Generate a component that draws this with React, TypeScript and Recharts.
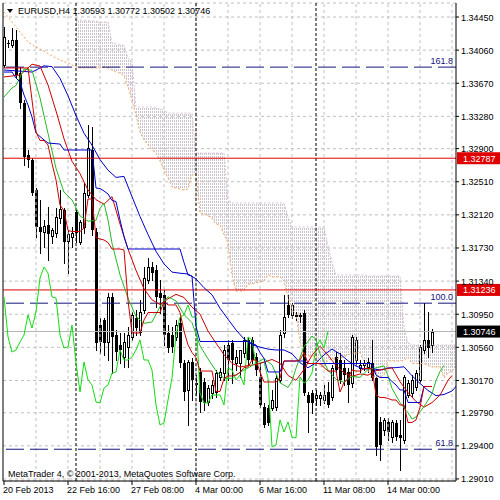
import React from 'react';
import {
  ComposedChart,
  Bar,
  Line,
  Area,
  XAxis,
  YAxis,
  CartesianGrid,
  ReferenceLine
} from 'recharts';

// EURUSD H4, 108 bars from Wed 20 Feb 2013 00:00
const opens = [
  1.33885, 1.34144, 1.34120, 1.34179, 1.33790, 1.33437, 1.32825, 1.32766, 1.32413, 1.31977,
  1.31918, 1.32001, 1.31871, 1.31906, 1.32083, 1.32177, 1.31812, 1.31859, 1.32154, 1.31800,
  1.31977, 1.32354, 1.32884, 1.31918, 1.30823, 1.30882, 1.30623, 1.31153, 1.30705, 1.30588,
  1.30446, 1.30564, 1.30682, 1.30906, 1.30741, 1.31000, 1.31353, 1.31506, 1.31471, 1.31200,
  1.31176, 1.30729, 1.30705, 1.30682, 1.30847, 1.30376, 1.30058, 1.30387, 1.30140, 1.30270,
  1.30152, 1.29916, 1.30022, 1.30034, 1.30211, 1.30258, 1.30588, 1.30611, 1.30376, 1.30376,
  1.30493, 1.30647, 1.30647, 1.30446, 1.30211, 1.29858, 1.29846, 1.29846, 1.29858, 1.30176,
  1.30729, 1.31059, 1.30941, 1.30941, 1.30941, 1.30964, 1.29999, 1.30022, 1.29964, 1.29964,
  1.29940, 1.30034, 1.29975, 1.30446, 1.30411, 1.30317, 1.30270, 1.30140, 1.30411, 1.30317,
  1.30352, 1.30329, 1.30376, 1.30199, 1.29681, 1.29587, 1.29681, 1.29504, 1.29669, 1.29528,
  1.29469, 1.29999, 1.30022, 1.30093, 1.30176, 1.30529, 1.30647, 1.30593
];
const highs = [
  1.34332, 1.34179, 1.34320, 1.34297, 1.33861, 1.33473, 1.32884, 1.32790, 1.32436, 1.32295,
  1.32060, 1.32213, 1.31965, 1.32201, 1.32413, 1.32201, 1.31942, 1.31977, 1.32177, 1.32060,
  1.32495, 1.33178, 1.33155, 1.31965, 1.30906, 1.30906, 1.31200, 1.31200, 1.30764, 1.30729,
  1.30729, 1.30800, 1.30976, 1.31000, 1.31118, 1.31506, 1.31612, 1.31565, 1.31530, 1.31353,
  1.31235, 1.30823, 1.30800, 1.30882, 1.30917, 1.30411, 1.30411, 1.30435, 1.30234, 1.30317,
  1.30199, 1.30117, 1.30176, 1.30293, 1.30317, 1.30588, 1.30647, 1.30647, 1.30529, 1.30529,
  1.30682, 1.30670, 1.30682, 1.30493, 1.30376, 1.29905, 1.29881, 1.30058, 1.30234, 1.30764,
  1.31176, 1.31176, 1.31082, 1.30976, 1.30964, 1.31000, 1.30034, 1.30058, 1.30058, 1.30034,
  1.30117, 1.30152, 1.30352, 1.30505, 1.30493, 1.30411, 1.30317, 1.30705, 1.30682, 1.30411,
  1.30411, 1.30435, 1.30647, 1.30211, 1.29740, 1.29728, 1.29728, 1.29705, 1.29705, 1.29705,
  1.30234, 1.30176, 1.30234, 1.30293, 1.30588, 1.31082, 1.30976, 1.30772
];
const lows = [
  1.33861, 1.34097, 1.34097, 1.33732, 1.33378, 1.32707, 1.32684, 1.32354, 1.31859, 1.31671,
  1.31742, 1.31589, 1.31789, 1.31859, 1.32024, 1.31553, 1.31435, 1.31742, 1.31800, 1.31777,
  1.31906, 1.32330, 1.31883, 1.30529, 1.30493, 1.30470, 1.30411, 1.30258, 1.30411, 1.30376,
  1.30329, 1.30329, 1.30647, 1.30705, 1.30705, 1.30964, 1.31318, 1.31353, 1.31035, 1.30964,
  1.30588, 1.30505, 1.30505, 1.30647, 1.30329, 1.29940, 1.29646, 1.29940, 1.29999, 1.29799,
  1.29822, 1.29881, 1.29964, 1.29975, 1.30176, 1.30176, 1.30176, 1.30140, 1.30293, 1.30211,
  1.30446, 1.30352, 1.30376, 1.30234, 1.29858, 1.29622, 1.29646, 1.29822, 1.29822, 1.30152,
  1.30682, 1.30917, 1.30906, 1.30882, 1.30858, 1.29999, 1.29563, 1.29787, 1.29881, 1.29881,
  1.29905, 1.29858, 1.29940, 1.30270, 1.30140, 1.30117, 1.29916, 1.30093, 1.30352, 1.30270,
  1.30293, 1.30270, 1.30176, 1.29292, 1.29234, 1.29528, 1.29469, 1.29445, 1.29469, 1.29116,
  1.29434, 1.29975, 1.29987, 1.30058, 1.30152, 1.30493, 1.30446, 1.30502
];
const closes = [
  1.34214, 1.34132, 1.34179, 1.33767, 1.33437, 1.32801, 1.32766, 1.32377, 1.31977, 1.31918,
  1.31989, 1.31895, 1.31942, 1.32095, 1.32189, 1.31800, 1.31895, 1.31906, 1.31906, 1.32036,
  1.32377, 1.32907, 1.31942, 1.30611, 1.30623, 1.30611, 1.31153, 1.30682, 1.30505, 1.30529,
  1.30623, 1.30705, 1.30941, 1.30788, 1.30976, 1.31377, 1.31506, 1.31435, 1.31153, 1.31141,
  1.30705, 1.30552, 1.30564, 1.30823, 1.30376, 1.30034, 1.30387, 1.30176, 1.30117, 1.29916,
  1.29905, 1.30081, 1.30117, 1.30258, 1.30270, 1.30529, 1.30411, 1.30411, 1.30446, 1.30529,
  1.30647, 1.30411, 1.30411, 1.30293, 1.29881, 1.29646, 1.29669, 1.29940, 1.30199, 1.30705,
  1.30917, 1.30941, 1.31059, 1.30917, 1.30917, 1.30022, 1.29905, 1.29905, 1.29999, 1.29999,
  1.29999, 1.29881, 1.30317, 1.30293, 1.30176, 1.30234, 1.30117, 1.30682, 1.30647, 1.30352,
  1.30376, 1.30387, 1.30199, 1.29387, 1.29410, 1.29705, 1.29563, 1.29681, 1.29504, 1.29493,
  1.30211, 1.30140, 1.30176, 1.30258, 1.30564, 1.30647, 1.30552, 1.30746
];

// Alligator lines as drawn (already shifted forward): [bar, price]
const jaw = [
  [0, 1.33826], [7, 1.33802], [8, 1.33825], [10, 1.33875], [12, 1.33866], [14, 1.33727], [16, 1.33523],
  [18, 1.33289], [20, 1.33081], [22, 1.32941], [24, 1.32771], [26, 1.32646], [28, 1.32561], [30, 1.32573],
  [32, 1.32335], [34, 1.32101], [36, 1.31889], [38, 1.31690], [40, 1.31543], [42, 1.31446], [44, 1.31433],
  [46, 1.31424], [48, 1.31366], [50, 1.31262], [52, 1.31179], [54, 1.31020], [56, 1.30891], [58, 1.30765],
  [60, 1.30659], [62, 1.30591], [64, 1.30562], [66, 1.30539], [68, 1.30529], [70, 1.30529], [72, 1.30485],
  [74, 1.30379], [76, 1.30320], [78, 1.30377], [80, 1.30472], [82, 1.30540], [84, 1.30481], [86, 1.30402],
  [88, 1.30340], [90, 1.30303], [92, 1.30311], [94, 1.30293], [96, 1.30318], [98, 1.30321], [100, 1.30331],
  [102, 1.30225], [104, 1.30135], [106, 1.30052], [108, 1.29991], [110, 1.30005], [112, 1.30046],
  [114, 1.30151], [115, 1.30189]
];
const teeth = [
  [0, 1.33744], [4, 1.33767], [5, 1.33808], [7, 1.33894], [9, 1.33873], [11, 1.33650], [13, 1.33344],
  [15, 1.33016], [17, 1.32751], [19, 1.32606], [21, 1.32413], [23, 1.32298], [25, 1.32246], [27, 1.32335],
  [29, 1.32013], [31, 1.31717], [33, 1.31467], [35, 1.31249], [37, 1.31119], [39, 1.31064], [41, 1.31132],
  [43, 1.31184], [45, 1.31147], [47, 1.31033], [49, 1.30952], [51, 1.30751], [53, 1.30610], [55, 1.30474],
  [57, 1.30371], [59, 1.30329], [61, 1.30345], [63, 1.30358], [65, 1.30385], [67, 1.30417], [69, 1.30373],
  [71, 1.30229], [73, 1.30172], [75, 1.30298], [77, 1.30467], [79, 1.30573], [81, 1.30468], [83, 1.30345],
  [85, 1.30260], [87, 1.30218], [89, 1.30247], [91, 1.30232], [93, 1.30286], [95, 1.30300], [97, 1.30320],
  [99, 1.30155], [101, 1.30027], [103, 1.29922], [105, 1.29856], [107, 1.29909], [109, 1.29997],
  [111, 1.30172], [112, 1.30229]
];
const lips = [
  [0, 1.33508], [2, 1.33614], [3, 1.33644], [5, 1.33837], [7, 1.33821], [9, 1.33497], [11, 1.33079],
  [13, 1.32668], [15, 1.32388], [17, 1.32296], [19, 1.32108], [21, 1.32045], [23, 1.32056], [24, 1.32196],
  [25, 1.32261], [26, 1.32059], [27, 1.31786], [29, 1.31414], [31, 1.31140], [33, 1.30923], [35, 1.30843],
  [37, 1.30858], [39, 1.31040], [41, 1.31155], [43, 1.31107], [45, 1.30946], [47, 1.30851], [49, 1.30579],
  [51, 1.30424], [53, 1.30282], [55, 1.30194], [57, 1.30195], [59, 1.30268], [61, 1.30317], [63, 1.30374],
  [65, 1.30428], [67, 1.30354], [69, 1.30143], [71, 1.30088], [72, 1.30162], [73, 1.30314], [75, 1.30568],
  [77, 1.30693], [78, 1.30655], [79, 1.30484], [81, 1.30292], [83, 1.30183], [85, 1.30148], [87, 1.30220],
  [89, 1.30206], [91, 1.30299], [93, 1.30317], [95, 1.30342], [96, 1.30224], [97, 1.30077], [99, 1.29909],
  [101, 1.29791], [102, 1.29716], [103, 1.29740], [105, 1.29863], [107, 1.30014], [108, 1.30169],
  [109, 1.30276], [110, 1.30348]
];

// Ichimoku: Tenkan-sen, Kijun-sen [bar, price]
const tenkan = [
  [0, 1.33850], [6, 1.33850], [7, 1.33473], [8, 1.33096], [9, 1.32996], [10, 1.32996], [11, 1.32943],
  [12, 1.32725], [13, 1.32531], [14, 1.32236], [15, 1.32171], [16, 1.31936], [17, 1.31924], [19, 1.31924],
  [20, 1.31965], [21, 1.32307], [22, 1.32307], [23, 1.31853], [24, 1.31836], [25, 1.31824], [26, 1.31794],
  [27, 1.31718], [29, 1.31718], [30, 1.31706], [31, 1.31112], [32, 1.30729], [34, 1.30729], [35, 1.30882],
  [36, 1.30970], [39, 1.30970], [40, 1.31100], [41, 1.31059], [43, 1.31059], [44, 1.30970], [45, 1.30752],
  [46, 1.30588], [47, 1.30499], [48, 1.30440], [49, 1.30281], [52, 1.30281], [53, 1.30040], [54, 1.30040],
  [55, 1.30193], [56, 1.30223], [57, 1.30223], [58, 1.30234], [59, 1.30264], [60, 1.30323], [61, 1.30329],
  [62, 1.30411], [63, 1.30411], [64, 1.30270], [65, 1.30152], [68, 1.30152], [69, 1.30193], [70, 1.30399],
  [73, 1.30399], [74, 1.30411], [75, 1.30499], [76, 1.30370], [79, 1.30370], [80, 1.30323], [81, 1.30281],
  [83, 1.30281], [84, 1.30034], [85, 1.30146], [86, 1.30193], [87, 1.30293], [88, 1.30281], [89, 1.30281],
  [90, 1.30311], [92, 1.30311], [93, 1.29999], [94, 1.29970], [95, 1.29970], [96, 1.29958], [97, 1.29940],
  [98, 1.29940], [99, 1.29881], [100, 1.29881], [101, 1.29675], [102, 1.29675], [103, 1.29705],
  [104, 1.29852], [105, 1.30099], [107, 1.30099]
];
const kijun = [
  [0, 1.33802], [2, 1.33802], [3, 1.33732], [4, 1.33684], [5, 1.33532], [6, 1.33414], [7, 1.33272],
  [8, 1.33084], [10, 1.33002], [11, 1.32966], [14, 1.32954], [15, 1.32884], [22, 1.32884], [23, 1.32436],
  [24, 1.32430], [25, 1.32401], [26, 1.32366], [27, 1.32289], [28, 1.32277], [29, 1.32060], [30, 1.31865],
  [31, 1.31718], [44, 1.31718], [45, 1.31559], [46, 1.31412], [47, 1.31400], [48, 1.30805], [49, 1.30629],
  [61, 1.30629], [62, 1.30605], [63, 1.30588], [64, 1.30499], [65, 1.30429], [66, 1.30270], [69, 1.30270],
  [70, 1.30399], [75, 1.30399], [76, 1.30370], [92, 1.30370], [93, 1.30234], [94, 1.30205], [96, 1.30205],
  [97, 1.30158], [98, 1.30117], [99, 1.30058], [100, 1.30058], [101, 1.29911], [104, 1.29911],
  [105, 1.30099], [107, 1.30099]
];

// Kumo: Senkou Span A / B at these bars (B missing where no cloud is drawn)
const cloudBars = [
  0, 2, 4, 6, 8, 10, 12, 14, 16, 18, 19, 22, 24, 25, 26, 27, 28, 29, 30, 31, 32, 33, 34, 35, 36, 37, 38, 39,
  40, 41, 42, 45, 46, 47, 48, 49, 50, 51, 52, 53, 54, 55, 56, 57, 58, 60, 61, 65, 66, 67, 69, 70, 71, 72,
  73, 74, 75, 78, 79, 80, 81, 82, 83, 84, 85, 86, 87, 88, 89, 90, 91, 92, 94, 95, 96, 99, 100, 101, 102,
  105, 106, 107, 109, 110, 111, 112, 113
];
const senkouA = [
  1.34509, 1.34391, 1.34273, 1.34155, 1.34097, 1.34049, 1.33991, 1.33944, 1.33908, 1.33861, 1.33850,
  1.33850, 1.33850, 1.33861, 1.33850, 1.33826, 1.33802, 1.33790, 1.33755, 1.33626, 1.33473, 1.33296,
  1.33096, 1.33002, 1.32943, 1.32884, 1.32848, 1.32754, 1.32648, 1.32554, 1.32448, 1.32413, 1.32425,
  1.32590, 1.32590, 1.32142, 1.32130, 1.32107, 1.32083, 1.32012, 1.32001, 1.31889, 1.31789, 1.31412,
  1.31223, 1.31223, 1.31300, 1.31341, 1.31412, 1.31388, 1.31388, 1.31341, 1.31153, 1.31000, 1.30953,
  1.30623, 1.30458, 1.30458, 1.30334, 1.30334, 1.30411, 1.30423, 1.30423, 1.30435, 1.30446, 1.30476,
  1.30482, 1.30505, 1.30499, 1.30387, 1.30293, 1.30211, 1.30211, 1.30234, 1.30399, 1.30399, 1.30405,
  1.30446, 1.30370, 1.30370, 1.30346, 1.30329, 1.30329, 1.30199, 1.30258, 1.30282, 1.30329
];
const senkouB = [
  null, null, null, null, null, null, null, null, null, 1.34415, 1.34415,
  1.34403, 1.34391, 1.34391, 1.34391, 1.34144, 1.34132, 1.34120, 1.34120, 1.33967, 1.33920, 1.33390,
  1.33390, 1.33390, 1.33390, 1.33390, 1.33378, 1.33367, 1.33355, 1.33319, 1.33319, 1.33319, 1.33319,
  1.33319, 1.32848, 1.32848, 1.32848, 1.32848, 1.32848, 1.32848, 1.32848, 1.32848, 1.32295, 1.32260,
  1.32260, 1.32260, 1.32260, 1.32260, 1.32260, 1.32260, 1.32260, 1.32260, 1.32095, 1.31977, 1.31977,
  1.31977, 1.31977, 1.31977, 1.31977, 1.31977, 1.31753, 1.31559, 1.31412, 1.31412, 1.31412, 1.31412,
  1.31412, 1.31412, 1.31412, 1.31412, 1.31400, 1.31400, 1.31400, 1.31400, 1.31400, 1.31400, 1.30794,
  1.30617, 1.30588, 1.30588, 1.30588, 1.30588, 1.30588, 1.30588, 1.30588, 1.30588, 1.30588
];
const CHIKOU_SHIFT = 26;

// horizontal levels
const redLevels = [1.32787, 1.31236];
const bidPrice = 1.30746;
const fiboLevels = [1.3386, 1.3108, 1.2936];
const fiboNames = ['161.8', '100.0', '61.8'];

// axes
const priceTicks = [
  1.2901, 1.294, 1.2979, 1.3017, 1.3056, 1.3095, 1.3134, 1.3173, 1.3212, 1.3251, 1.329, 1.3328,
  1.3367, 1.3406, 1.3445
];
const timeTicks = [0, 16, 32, 48, 64, 80, 96];
const timeLabels = ['20 Feb 2013', '22 Feb 16:00', '27 Feb 08:00', '4 Mar 00:00', '6 Mar 16:00', '11 Mar 08:00', '14 Mar 00:00'];
const timeGrid = [8, 16, 24, 32, 40, 48, 56, 64, 72, 80, 88, 96, 104, 112];
const weekStarts = [18, 48, 78];

const FONT = "'Liberation Sans', Arial, sans-serif";
const RED = '#cc0000';
const BLUE = '#0000cc';
const LIME = '#11dd11';
const GRID = '#c0c0c0';
const NAVY = '#14147a';

// table for recharts
const rows: any[] = [];
for (let i = 0; i < 116; i++) rows.push({ i });
opens.forEach((o, i) => {
  Object.assign(rows[i], { o, h: highs[i], l: lows[i], c: closes[i], candle: [lows[i], highs[i]] });
});
const put = (key: string, pts: number[][]) => pts.forEach(([i, v]) => { rows[i][key] = v; });
put('jaw', jaw);
put('teeth', teeth);
put('lips', lips);
put('tenkan', tenkan);
put('kijun', kijun);
closes.forEach((c, i) => { if (i >= CHIKOU_SHIFT) rows[i - CHIKOU_SHIFT].chikou = c; });
cloudBars.forEach((i, n) => {
  rows[i].spanA = senkouA[n];
  if (senkouB[n] != null) {
    rows[i].spanB = senkouB[n];
    rows[i].cloud = [senkouA[n], senkouB[n]];
  }
});

const Candle = (props: any) => {
  const { x, y, width, height, payload } = props;
  if (!payload || payload.h == null || isNaN(y)) return null;
  const cx = Math.round(x + (width || 0) / 2);
  const top = Math.min(y, y + height);
  const bot = Math.max(y, y + height);
  const span = payload.h - payload.l;
  const py = (v: number) => (span > 0 ? top + ((payload.h - v) / span) * (bot - top) : top);
  const yo = py(payload.o);
  const yc = py(payload.c);
  const bTop = Math.round(Math.min(yo, yc));
  const bBot = Math.round(Math.max(yo, yc));
  const up = payload.c > payload.o;
  return (
    <g>
      <line x1={cx + 0.5} x2={cx + 0.5} y1={Math.round(top)} y2={Math.round(bot) + 1} stroke="#000" strokeWidth={1} />
      {up ? (
        <rect x={cx - 0.5} y={bTop + 0.5} width={2} height={Math.max(bBot - bTop, 1)} fill="#fff" stroke="#000" strokeWidth={1} />
      ) : (
        <rect x={cx - 1} y={bTop} width={3} height={Math.max(bBot - bTop, 1)} fill="#000" />
      )}
    </g>
  );
};

const PriceTick = ({ x, y, payload }: any) => (
  <text x={x} y={y} dy={3.5} fontSize={9} fontFamily={FONT} fill="#000" textAnchor="start">
    {Number(payload.value).toFixed(5)}
  </text>
);

const TimeTick = ({ x, y, payload }: any) => (
  <text x={x - 1} y={y} dy={8} fontSize={9} fontFamily={FONT} fill="#000" textAnchor="start">
    {timeLabels[timeTicks.indexOf(payload.value)]}
  </text>
);

const PriceTag = ({ viewBox, text, bg }: any) => {
  if (!viewBox) return null;
  const x = viewBox.x + viewBox.width;
  const y = viewBox.y;
  return (
    <g>
      <rect x={x + 1} y={y - 6} width={44} height={12} fill={bg} />
      <text x={x + 7} y={y + 3.5} fontSize={9} fontFamily={FONT} fill="#fff">{text}</text>
    </g>
  );
};

const FiboTag = ({ viewBox, text }: any) => {
  if (!viewBox) return null;
  return (
    <text x={viewBox.x + viewBox.width - 3} y={viewBox.y - 3} textAnchor="end" fontSize={9} fontFamily={FONT} fill={NAVY}>
      {text}
    </text>
  );
};

export default function App() {
  return (
    <div style={{ position: 'absolute', left: 0, top: 0, width: 500, height: 500, background: '#fff', overflow: 'hidden' }}>
      <svg width={0} height={0} style={{ position: 'absolute' }}>
        <defs>
          <pattern id="kumo" width="2" height="3" patternUnits="userSpaceOnUse">
            <rect x="0" y="0" width="1" height="2" fill="#cdc3cf" />
          </pattern>
        </defs>
      </svg>
      <ComposedChart width={500} height={500} data={rows} margin={{ top: 3, right: 0, bottom: 0, left: 3 }}>
        <CartesianGrid vertical={false} stroke={GRID} strokeDasharray="3 3" />
        <XAxis
          dataKey="i"
          type="number"
          domain={[-0.25, 113]}
          allowDataOverflow
          ticks={timeTicks}
          interval={0}
          height={19}
          tick={<TimeTick />}
          tickSize={4}
          tickMargin={0}
          axisLine={{ stroke: '#000' }}
          tickLine={{ stroke: '#000' }}
        />
        <YAxis
          orientation="right"
          type="number"
          domain={[1.28986, 1.34615]}
          allowDataOverflow
          ticks={priceTicks}
          interval={0}
          width={44}
          tick={<PriceTick />}
          tickSize={3}
          tickMargin={2}
          axisLine={{ stroke: '#000' }}
          tickLine={{ stroke: '#000' }}
        />
        {timeGrid.map((t) => (
          <ReferenceLine key={'g' + t} x={t} stroke={GRID} strokeDasharray="3 3" />
        ))}
        <Area dataKey="cloud" fill="url(#kumo)" fillOpacity={1} stroke="none" connectNulls isAnimationActive={false} />
        <Line dataKey="spanA" stroke="#f4a460" strokeDasharray="2 2" dot={false} connectNulls isAnimationActive={false} />
        <Line dataKey="spanB" stroke="#d8bfd8" strokeDasharray="2 2" dot={false} connectNulls isAnimationActive={false} />
        {weekStarts.map((w) => (
          <ReferenceLine key={'w' + w} x={w} stroke="#000" strokeDasharray="3 2" />
        ))}
        <ReferenceLine x={-0.25} stroke="#000" />
        <ReferenceLine y={bidPrice} stroke="#b4b4b4" label={<PriceTag text={bidPrice.toFixed(5)} bg="#000" />} />
        {redLevels.map((v) => (
          <ReferenceLine key={'r' + v} y={v} stroke="#e00000" label={<PriceTag text={v.toFixed(5)} bg="#e00000" />} />
        ))}
        {fiboLevels.map((v, n) => (
          <ReferenceLine key={'f' + v} y={v} stroke={NAVY} strokeDasharray="18 6" label={<FiboTag text={fiboNames[n]} />} />
        ))}
        <Bar dataKey="candle" shape={<Candle />} barSize={3} isAnimationActive={false} />
        <Line dataKey="chikou" stroke={LIME} dot={false} connectNulls isAnimationActive={false} />
        <Line dataKey="jaw" stroke={BLUE} dot={false} connectNulls isAnimationActive={false} />
        <Line dataKey="teeth" stroke={RED} dot={false} connectNulls isAnimationActive={false} />
        <Line dataKey="lips" stroke="#22bb22" dot={false} connectNulls isAnimationActive={false} />
        <Line dataKey="kijun" stroke={BLUE} dot={false} connectNulls isAnimationActive={false} />
        <Line dataKey="tenkan" stroke={RED} dot={false} connectNulls isAnimationActive={false} />
      </ComposedChart>
      <svg width={500} height={500} style={{ position: 'absolute', left: 0, top: 0, pointerEvents: 'none' }}>
        <polygon points="7,9 13,9 10,13" fill="#000" />
        <text x={18} y={14} fontSize={9} fontFamily={FONT} fill="#000">EURUSD,H4  1.30593 1.30772 1.30502 1.30746</text>
        <text x={8} y={477} fontSize={9} fontFamily={FONT} fill="#000">MetaTrader 4, © 2001-2013, MetaQuotes Software Corp.</text>
      </svg>
    </div>
  );
}
